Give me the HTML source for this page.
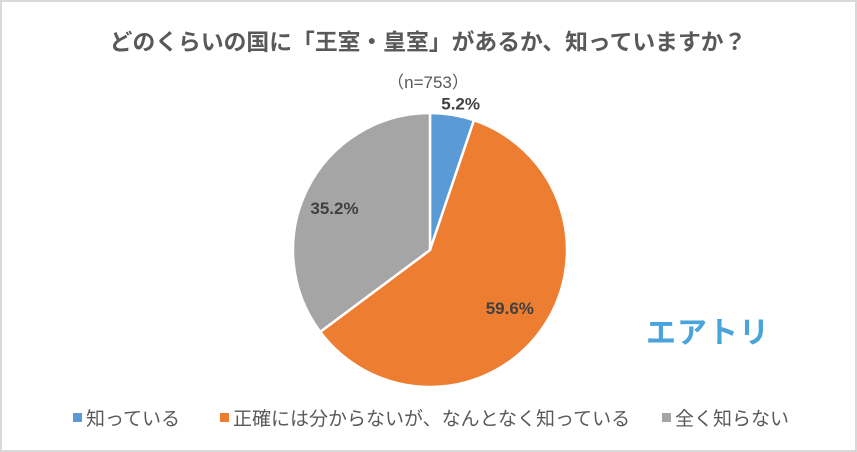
<!DOCTYPE html>
<html><head><meta charset="utf-8">
<style>
html,body{margin:0;padding:0;background:#fff;}
#wrap{position:relative;width:857px;height:452px;box-sizing:border-box;border:2px solid #d9d9d9;background:#fff;overflow:hidden;}
text{font-family:"Liberation Sans","Noto Sans CJK JP",sans-serif;}
</style></head>
<body>
<div id="wrap">
<svg id="chart" width="853" height="448" viewBox="2 2 853 448">
  <text x="428" y="50" text-anchor="middle" font-size="22.8" font-weight="bold" fill="#595959">どのくらいの国に「王室・皇室」があるか、知っていますか？</text>
  <text x="428" y="88" text-anchor="middle" font-size="17" fill="#595959">（n=753）</text>
  <g id="slices"></g>
  <g id="labels"></g>
  <text x="708" y="343" text-anchor="middle" font-size="30" font-weight="bold" fill="#4aa3db" letter-spacing="1">エアトリ</text>
  <g id="legend"></g>
</svg>
</div>
<script>
const categories = ["知っている", "正確には分からないが、なんとなく知っている", "全く知らない"];
const values = [5.2, 59.6, 35.2];
const colors = ["#5b9bd5", "#ed7d31", "#a5a5a5"];
const cx = 430, cy = 250, r = 137;
const NS = "http://www.w3.org/2000/svg";
const slices = document.getElementById("slices");
const labels = document.getElementById("labels");
const legend = document.getElementById("legend");
const total = values.reduce((a,b)=>a+b,0);
function pt(angle, rad){ return [cx + rad*Math.sin(angle), cy - rad*Math.cos(angle)]; }
let acc = 0;
const labelRad = [1.06, 0.72, 0.78];
values.forEach((v,i)=>{
  const a0 = acc/total*2*Math.PI; acc += v; const a1 = acc/total*2*Math.PI;
  const [x0,y0] = pt(a0,r), [x1,y1] = pt(a1,r);
  const large = (a1-a0) > Math.PI ? 1 : 0;
  const p = document.createElementNS(NS,"path");
  p.setAttribute("d",`M${cx},${cy} L${x0},${y0} A${r},${r} 0 ${large} 1 ${x1},${y1} Z`);
  p.setAttribute("fill",colors[i]); p.setAttribute("stroke","#fff"); p.setAttribute("stroke-width","2.5");
  
  
  slices.appendChild(p);
  const am = (a0+a1)/2;
  const [lx,ly] = pt(am, r*labelRad[i]);
  const t = document.createElementNS(NS,"text");
  t.setAttribute("x", i===0 ? lx+7 : lx); t.setAttribute("y", i===0 ? ly+3 : (i===2 ? ly+12 : ly+6));
  t.setAttribute("text-anchor","middle"); t.setAttribute("font-size","17"); t.setAttribute("font-weight","bold"); t.setAttribute("fill","#404040");
  t.textContent = v.toFixed(1) + "%";
  
  
  labels.appendChild(t);
});
const legX = [73, 220, 662];
categories.forEach((c,i)=>{
  const g = document.createElementNS(NS,"g");
  
  
  const s = document.createElementNS(NS,"rect");
  s.setAttribute("x",legX[i]); s.setAttribute("y",413); s.setAttribute("width",9); s.setAttribute("height",9); s.setAttribute("fill",colors[i]);
  const t = document.createElementNS(NS,"text");
  t.setAttribute("x",legX[i]+13); t.setAttribute("y",425); t.setAttribute("font-size","19"); t.setAttribute("fill","#595959");
  t.textContent = c;
  g.appendChild(s); g.appendChild(t); legend.appendChild(g);
});
</script>
</body></html>
